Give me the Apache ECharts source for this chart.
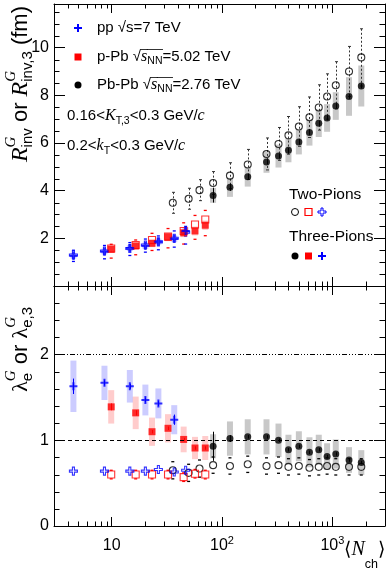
<!DOCTYPE html>
<html>
<head>
<meta charset="utf-8">
<script src="https://cdn.jsdelivr.net/npm/echarts@6/dist/echarts.min.js"></script>
<style>
html, body { margin: 0; padding: 0; background: #fff; }
#chart { width: 390px; height: 572px; }
</style>
</head>
<body>
<div id="chart"></div>
<script>
// ---------- data ----------
// pp sqrt(s)=7 TeV
const ppN = [4.5, 8.6, 14.6, 20.2, 26.5, 36.9, 46.8];
const ppR3 = [1.27, 1.45, 1.59, 1.69, 1.86, 1.98, 2.31];
const ppR3Sys = [0.12, 0.12, 0.12, 0.13, 0.13, 0.14, 0.15];
const ppR2 = [1.30, 1.47, 1.57, 1.72, 1.85, 2.00, 2.26];
const ppR2Lo = [1.03, 1.14, 1.28, 1.42, 1.52, 1.63, 1.76];
const ppR2Hi = [1.50, 1.70, 1.82, 1.97, 2.10, 2.31, 2.50];
const ppL3N = [4.5, 8.6, 14.6, 20.2, 26.5, 36.9];
const ppL3 = [1.63, 1.67, 1.63, 1.47, 1.43, 1.24];
const ppL3Stat = [0.09, 0.03, 0.03, 0.03, 0.03, 0.06];
const ppL3Sys = [0.30, 0.20, 0.19, 0.18, 0.175, 0.17];
const ppL2 = [0.64, 0.64, 0.64, 0.64, 0.66, 0.63, 0.65];

// p-Pb sqrt(sNN)=5.02 TeV
const pPbN = [9.9, 16.5, 23.2, 32.4, 44.9, 56.9, 70.5];
const pPbR3 = [1.54, 1.68, 1.79, 2.05, 2.23, 2.31, 2.55];
const pPbR3Sys = [0.15, 0.15, 0.16, 0.17, 0.18, 0.19, 0.20];
const pPbR2 = [1.57, 1.72, 1.93, 2.07, 2.31, 2.58, 2.79];
const pPbR2Lo = [1.17, 1.31, 1.49, 1.60, 1.76, 1.96, 2.11];
const pPbR2Hi = [1.75, 1.93, 2.21, 2.41, 2.65, 2.96, 3.17];
const pPbL3 = [1.39, 1.32, 1.10, 1.14, 1.01, 0.91, 0.91];
const pPbL3Stat = [0.04, 0.03, 0.02, 0.02, 0.02, 0.02, 0.02];
const pPbL3Sys = [0.195, 0.19, 0.165, 0.165, 0.15, 0.13, 0.14];
const pPbL2 = [0.60, 0.60, 0.60, 0.60, 0.57, 0.61, 0.60];
const pPbL2Err = [0.05, 0.05, 0.05, 0.05, 0.05, 0.05, 0.05];

// Pb-Pb sqrt(sNN)=2.76 TeV
const PbPbN = [83, 118, 171, 253, 325, 400, 497, 620, 753, 896, 1074, 1416, 1829];
const PbPbR3 = [3.80, 4.14, 4.58, 5.20, 5.45, 5.69, 6.04, 6.44, 6.83, 7.05, 7.55, 7.95, 8.39];
const PbPbR3Stat = [0.30, 0.15, 0.12, 0.10, 0.10, 0.10, 0.10, 0.10, 0.10, 0.10, 0.10, 0.10, 0.10];
const PbPbR3Sys = [0.31, 0.40, 0.41, 0.45, 0.48, 0.50, 0.52, 0.55, 0.58, 0.58, 0.58, 0.81, 0.86];
const PbPbN2 = [35.8, 49.8, 62.5, 83, 118, 171, 253, 325, 400, 497, 620, 753, 896, 1074, 1416, 1829];
const PbPbR2 = [3.49, 3.66, 4.02, 4.32, 4.63, 5.10, 5.54, 5.96, 6.32, 6.69, 7.08, 7.49, 7.95, 8.42, 9.00, 9.59];
const PbPbR2Err = [0.44, 0.44, 0.44, 0.48, 0.54, 0.63, 0.67, 0.69, 0.79, 0.83, 0.85, 0.95, 0.95, 0.99, 1.05, 1.20];
const PbPbL3 = [0.93, 1.02, 1.04, 1.04, 1.00, 0.89, 0.93, 0.86, 0.89, 0.81, 0.84, 0.77, 0.74];
const PbPbL3Stat = [0.17, 0.04, 0.02, 0.02, 0.02, 0.02, 0.02, 0.02, 0.02, 0.02, 0.02, 0.02, 0.02];
const PbPbL3Sys = [0.14, 0.20, 0.205, 0.205, 0.195, 0.175, 0.175, 0.175, 0.175, 0.155, 0.17, 0.15, 0.145];
const PbPbL2 = [0.65, 0.62, 0.67, 0.71, 0.70, 0.72, 0.70, 0.71, 0.69, 0.70, 0.68, 0.69, 0.70, 0.69, 0.69, 0.69];
const PbPbL2Err = [0.10, 0.10, 0.10, 0.095, 0.095, 0.095, 0.095, 0.095, 0.095, 0.095, 0.095, 0.095, 0.095, 0.095, 0.095, 0.095];

// reference lines in the lambda panel
const lambdaRefs = [1, 2];

// tick positions
const xMinor = [4, 5, 6, 7, 8, 9, 20, 30, 40, 50, 60, 70, 80, 90, 200, 300, 400, 500, 600, 700, 800, 900, 2000];
const yTopMinor = [0.5, 1, 1.5, 2.5, 3, 3.5, 4.5, 5, 5.5, 6.5, 7, 7.5, 8.5, 9, 9.5, 10.5, 11, 11.5];
const yBotMinor = [0.2, 0.4, 0.6, 0.8, 1.2, 1.4, 1.6, 1.8, 2.2, 2.4, 2.6];
const yTopLabels = [2, 4, 6, 8, 10];
const yBotLabels = [0, 1, 2];

// ---------- helpers ----------
const zip2 = (a, b) => a.map((v, i) => [v, b[i]]);
const zip3 = (a, b, c) => a.map((v, i) => [v, b[i], c[i]]);

const BLUE = '#0000ff', RED = '#ff0000', BLACK = '#000';
const CROSS = 'path://M3,0H5V3H8V5H5V8H3V5H0V3H3Z';
const FAM = {
  sans: '"Liberation Sans", Arial, sans-serif',
  serif: '"Liberation Serif", "Times New Roman", serif',
  dv: '"DejaVu Sans", sans-serif'
};

function sysBox(w) {
  return function (params, api) {
    const x = api.value(0), v = api.value(1), e = api.value(2);
    const a = api.coord([x, v + e]), b = api.coord([x, v - e]);
    return {
      type: 'rect',
      shape: { x: a[0] - w / 2, y: a[1], width: w, height: b[1] - a[1] },
      style: { fill: api.visual('color') }
    };
  };
}

function errBar(dash, cap) {
  return function (params, api) {
    const x = api.value(0), v = api.value(1), e = api.value(2);
    const a = api.coord([x, v + e]), b = api.coord([x, v - e]);
    const col = api.visual('color');
    const xs = Math.round(a[0]) + 0.5;
    const ch = [{
      type: 'line',
      shape: { x1: xs, y1: a[1], x2: xs, y2: b[1] },
      style: { stroke: col, lineWidth: 1, lineDash: dash }
    }];
    if (cap) {
      ch.push({ type: 'line', shape: { x1: xs - cap, y1: a[1], x2: xs + cap, y2: a[1] }, style: { stroke: col, lineWidth: 1 } });
      ch.push({ type: 'line', shape: { x1: xs - cap, y1: b[1], x2: xs + cap, y2: b[1] }, style: { stroke: col, lineWidth: 1 } });
    }
    return { type: 'group', children: ch };
  };
}

// short dashes at lo / hi (data: [x, lo, hi])
function dashes(w) {
  return function (params, api) {
    const x = api.value(0);
    const lo = api.coord([x, api.value(1)]), hi = api.coord([x, api.value(2)]);
    const col = api.visual('color');
    return {
      type: 'group',
      children: [lo, hi].map(p => ({
        type: 'line',
        shape: { x1: p[0] - w / 2, y1: p[1], x2: p[0] + w / 2, y2: p[1] },
        style: { stroke: col, lineWidth: 1.3 }
      }))
    };
  };
}

function xMinorTicks(len) {
  return function (params, api) {
    const cs = params.coordSys;
    const x = Math.round(api.coord([api.value(0), 1])[0]) + 0.5;
    return {
      type: 'group',
      children: [
        { type: 'line', shape: { x1: x, y1: cs.y + cs.height, x2: x, y2: cs.y + cs.height - len }, style: { stroke: BLACK, lineWidth: 1 } },
        { type: 'line', shape: { x1: x, y1: cs.y, x2: x, y2: cs.y + len }, style: { stroke: BLACK, lineWidth: 1 } }
      ]
    };
  };
}

function yMinorTicks(len) {
  return function (params, api) {
    const cs = params.coordSys;
    const y = Math.round(api.coord([10, api.value(1)])[1]) + 0.5;
    return {
      type: 'group',
      children: [
        { type: 'line', shape: { x1: cs.x, y1: y, x2: cs.x + len, y2: y }, style: { stroke: BLACK, lineWidth: 1 } },
        { type: 'line', shape: { x1: cs.x + cs.width, y1: y, x2: cs.x + cs.width - len, y2: y }, style: { stroke: BLACK, lineWidth: 1 } }
      ]
    };
  };
}

// text laid out as a row of runs (sub/superscripts, overlines)
const ctx = document.createElement('canvas').getContext('2d');
function fontOf(p) { return (p.it ? 'italic ' : '') + p.s + 'px ' + FAM[p.f || 'sans']; }
function runs(x0, base, parts) {
  const els = [];
  let x = x0, held = 0;
  parts.forEach(p => {
    const font = fontOf(p);
    ctx.font = font;
    const w = ctx.measureText(p.t).width;
    const yb = base + (p.dy || 0);
    els.push({
      type: 'text', x: x, y: yb - 0.35 * p.s,
      style: { text: p.t, font: font, fill: BLACK, align: 'left', verticalAlign: 'middle', textAlign: 'left', textVerticalAlign: 'middle' }
    });
    if (p.ol) {
      els.push({ type: 'line', shape: { x1: x - 0.5, y1: base - p.ol, x2: x + w + 0.5, y2: base - p.ol }, style: { stroke: BLACK, lineWidth: 0.8 } });
    }
    if (p.hold) { held = Math.max(held, w); }
    else { x += Math.max(held, w); held = 0; }
  });
  return { els: els, width: x - x0 };
}

// ---------- texts ----------
const graphics = [];
function put(x, base, parts) { graphics.push(...runs(x, base, parts).els); }

put(97, 33, [{ t: 'pp ', s: 15 }, { t: '\u221A', s: 15 }, { t: 's', s: 15 }, { t: '=7 TeV', s: 15 }]);
put(97, 62, [{ t: 'p-Pb ', s: 15 }, { t: '\u221A', s: 15 }, { t: 's', s: 16, f: 'serif', it: true, ol: 12.5 },
  { t: 'NN', s: 10.5, dy: 3, ol: 12.5 }, { t: '=5.02 TeV', s: 15 }]);
put(97, 90, [{ t: 'Pb-Pb ', s: 15 }, { t: '\u221A', s: 15 }, { t: 's', s: 16, f: 'serif', it: true, ol: 12.5 },
  { t: 'NN', s: 10.5, dy: 3, ol: 12.5 }, { t: '=2.76 TeV', s: 15 }]);
put(67, 121.5, [{ t: '0.16<', s: 15 }, { t: 'K', s: 16, f: 'serif', it: true }, { t: 'T,3', s: 10.5, dy: 3.5 },
  { t: '<0.3 GeV/', s: 15 }, { t: 'c', s: 16, f: 'serif', it: true }]);
put(67, 151.5, [{ t: '0.2<', s: 15 }, { t: 'k', s: 16, f: 'serif', it: true }, { t: 'T', s: 10.5, dy: 3.5 },
  { t: '<0.3 GeV/', s: 15 }, { t: 'c', s: 16, f: 'serif', it: true }]);
put(289, 200, [{ t: 'Two-Pions', s: 15.5 }]);
put(289, 242.5, [{ t: 'Three-Pions', s: 15.5 }]);

// x axis title <N_ch>
put(344, 557, [{ t: '\u27E8', s: 19, f: 'dv' }, { t: 'N', s: 20, f: 'serif', it: true }, { t: 'ch', s: 12.5, dy: 12 }, { t: '\u27E9', s: 19, f: 'dv' }]);

// rotated y titles
const t1 = runs(0, 0, [
  { t: 'R', s: 24, f: 'serif', it: true },
  { t: 'G', s: 15, f: 'serif', it: true, dy: -13, hold: true },
  { t: 'inv', s: 15, dy: 4 },
  { t: ' or ', s: 22 },
  { t: 'R', s: 24, f: 'serif', it: true },
  { t: 'G', s: 15, f: 'serif', it: true, dy: -13, hold: true },
  { t: 'inv,3', s: 15, dy: 4 },
  { t: ' (fm)', s: 22 }
]);
graphics.push({ type: 'group', x: 29, y: 6 + t1.width, rotation: Math.PI / 2, children: t1.els });

const t2 = runs(0, 0, [
  { t: '\u03BB', s: 22, f: 'serif' },
  { t: 'G', s: 15, f: 'serif', it: true, dy: -13, hold: true },
  { t: 'e', s: 15, dy: 4 },
  { t: ' or ', s: 22 },
  { t: '\u03BB', s: 22, f: 'serif' },
  { t: 'G', s: 15, f: 'serif', it: true, dy: -13, hold: true },
  { t: 'e,3', s: 15, dy: 4 }
]);
graphics.push({ type: 'group', x: 29, y: 307 + t2.width, rotation: Math.PI / 2, children: t2.els });

// legend markers
function crossEl(cx, cy, filled) {
  const pts = [[0, 3], [3, 3], [3, 0], [5, 0], [5, 3], [8, 3], [8, 5], [5, 5], [5, 8], [3, 8], [3, 5], [0, 5]]
    .map(p => [cx - 4 + p[0], cy - 4 + p[1]]);
  return {
    type: 'polygon', shape: { points: pts },
    style: filled ? { fill: BLUE } : { fill: 'none', stroke: BLUE, lineWidth: 1 }
  };
}
graphics.push(crossEl(78, 28, true));
graphics.push({ type: 'rect', shape: { x: 74.5, y: 53.5, width: 7, height: 7 }, style: { fill: RED } });
graphics.push({ type: 'circle', shape: { cx: 78, cy: 85, r: 3.5 }, style: { fill: BLACK } });
graphics.push({ type: 'circle', shape: { cx: 295, cy: 212, r: 3.5 }, style: { fill: 'none', stroke: BLACK, lineWidth: 1 } });
graphics.push({ type: 'rect', shape: { x: 305, y: 208.5, width: 7, height: 7 }, style: { fill: 'none', stroke: RED, lineWidth: 1.2 } });
graphics.push(crossEl(322, 212, false));
graphics.push({ type: 'circle', shape: { cx: 295, cy: 256, r: 3.5 }, style: { fill: BLACK } });
graphics.push({ type: 'rect', shape: { x: 305, y: 252.5, width: 7, height: 7 }, style: { fill: RED } });
graphics.push(crossEl(322, 256, true));
graphics.forEach(g => { g.z = 20; });

// ---------- axes ----------
const tickFont = { fontSize: 16, fontFamily: FAM.sans, color: BLACK };
function xAx(grid, pos, labels) {
  return {
    type: 'log', logBase: 10, gridIndex: grid, position: pos, min: 3, max: 3000, splitNumber: 3,
    axisLine: { show: true, onZero: false, lineStyle: { color: BLACK, width: 1 } },
    axisTick: { show: true, inside: true, length: 9, lineStyle: { color: BLACK } },
    axisLabel: {
      show: labels, margin: 9,
      formatter: function (v) {
        const l = Math.log10(v), e = Math.round(l);
        if (Math.abs(l - e) > 1e-6 || e < 1) return '';
        return e === 1 ? '{b|10}' : '{b|10}{s|' + e + '}';
      },
      rich: {
        b: { fontSize: 16, lineHeight: 22, fontFamily: FAM.sans, color: BLACK },
        s: { fontSize: 11, lineHeight: 8, verticalAlign: 'top', fontFamily: FAM.sans, color: BLACK }
      }
    },
    splitLine: { show: false }
  };
}
function yAx(grid, pos, max, interval, shown) {
  return {
    type: 'value', gridIndex: grid, position: pos, min: 0, max: max, interval: interval,
    axisLine: { show: true, onZero: false, lineStyle: { color: BLACK, width: 1 } },
    axisTick: { show: true, inside: true, length: 11, lineStyle: { color: BLACK } },
    axisLabel: shown ? Object.assign({
      show: true, margin: 5,
      formatter: v => (shown.indexOf(v) >= 0 ? String(v) : '')
    }, tickFont) : { show: false },
    splitLine: { show: false }
  };
}

// ---------- series ----------
function custom(grid, data, render, color, z) {
  return { type: 'custom', xAxisIndex: grid * 2, yAxisIndex: grid * 2, data: data, renderItem: render, itemStyle: { color: color }, z: z, silent: true };
}
function scat(grid, data, symbol, size, color, open, z, extra) {
  return Object.assign({
    type: 'scatter', xAxisIndex: grid * 2, yAxisIndex: grid * 2, data: data, symbol: symbol, symbolSize: size,
    itemStyle: open ? { color: 'rgba(0,0,0,0)', borderColor: color, borderWidth: 1.1 } : { color: color },
    z: z, silent: true
  }, extra || {});
}

const series = [
  // top panel
  custom(0, zip3(PbPbN, PbPbR3, PbPbR3Sys), sysBox(6), '#c8c8c8', 1),
  custom(0, zip3(pPbN, pPbR3, pPbR3Sys), sysBox(6), 'rgba(255,0,0,0.2)', 1),
  custom(0, zip3(ppN, ppR3, ppR3Sys), sysBox(6), 'rgba(0,0,255,0.2)', 1),
  custom(0, zip3(PbPbN2, PbPbR2, PbPbR2Err), errBar([2, 2], 1.5), '#333', 2),
  custom(0, zip3(pPbN, pPbR2Lo, pPbR2Hi), dashes(3), RED, 2),
  custom(0, zip3(ppN, ppR2Lo, ppR2Hi), dashes(3), BLUE, 2),
  custom(0, zip3(PbPbN, PbPbR3, PbPbR3Stat), errBar(null, 0), BLACK, 2),
  scat(0, zip2(PbPbN2, PbPbR2), 'circle', 7, BLACK, true, 3),
  scat(0, zip2(pPbN, pPbR2), 'rect', 7, RED, true, 3),
  scat(0, zip2(ppN, ppR2), CROSS, 8, BLUE, true, 3),
  scat(0, zip2(PbPbN, PbPbR3), 'circle', 7, BLACK, false, 4),
  scat(0, zip2(pPbN, pPbR3), 'rect', 7, RED, false, 4),
  scat(0, zip2(ppN, ppR3), CROSS, 8, BLUE, false, 4),
  custom(0, xMinor.map(v => [v, 1]), xMinorTicks(4.5), BLACK, 5),
  custom(0, yTopMinor.map(v => [10, v]), yMinorTicks(5.5), BLACK, 5),

  // bottom panel
  custom(1, zip3(PbPbN, PbPbL3, PbPbL3Sys), sysBox(6), '#c8c8c8', 1),
  custom(1, zip3(pPbN, pPbL3, pPbL3Sys), sysBox(6), 'rgba(255,0,0,0.2)', 1),
  custom(1, zip3(ppL3N, ppL3, ppL3Sys), sysBox(6), 'rgba(0,0,255,0.2)', 1),
  custom(1, zip3(PbPbN2, PbPbL2.map((v, i) => v - PbPbL2Err[i]), PbPbL2.map((v, i) => v + PbPbL2Err[i])), dashes(3), BLACK, 2),
  custom(1, zip3(pPbN, pPbL2.map((v, i) => v - pPbL2Err[i]), pPbL2.map((v, i) => v + pPbL2Err[i])), dashes(3), RED, 2),
  custom(1, zip3(PbPbN, PbPbL3, PbPbL3Stat), errBar(null, 0), BLACK, 2),
  custom(1, zip3(pPbN, pPbL3, pPbL3Stat), errBar(null, 0), RED, 2),
  custom(1, zip3(ppL3N, ppL3, ppL3Stat), errBar(null, 0), BLUE, 2),
  scat(1, zip2(PbPbN2, PbPbL2), 'circle', 7, BLACK, true, 3, {
    markLine: {
      silent: true, symbol: ['none', 'none'], label: { show: false }, animation: false,
      data: [
        { yAxis: lambdaRefs[0], lineStyle: { color: BLACK, width: 1, type: [4, 3] } },
        { yAxis: lambdaRefs[1], lineStyle: { color: BLACK, width: 1, type: [5, 2, 1, 2, 1, 2, 1, 2] } }
      ]
    }
  }),
  scat(1, zip2(pPbN, pPbL2), 'rect', 7, RED, true, 3),
  scat(1, zip2(ppN, ppL2), CROSS, 8, BLUE, true, 3),
  scat(1, zip2(PbPbN, PbPbL3), 'circle', 7, BLACK, false, 4),
  scat(1, zip2(pPbN, pPbL3), 'rect', 7, RED, false, 4),
  scat(1, zip2(ppL3N, ppL3), CROSS, 8, BLUE, false, 4),
  custom(1, xMinor.map(v => [v, 1]), xMinorTicks(4.5), BLACK, 5),
  custom(1, yBotMinor.map(v => [10, v]), yMinorTicks(5.5), BLACK, 5)
];

const chart = echarts.init(document.getElementById('chart'), null, { renderer: 'canvas', width: 390, height: 572 });
chart.setOption({
  animation: false,
  backgroundColor: '#fff',
  grid: [
    { left: 54, top: 4, width: 331, height: 282, outerBoundsMode: 'none', containLabel: false },
    { left: 54, top: 286, width: 331, height: 240, outerBoundsMode: 'none', containLabel: false }
  ],
  xAxis: [xAx(0, 'bottom', false), xAx(0, 'top', false), xAx(1, 'bottom', true), xAx(1, 'top', false)],
  yAxis: [yAx(0, 'left', 11.83, 2, yTopLabels), yAx(0, 'right', 11.83, 2, null),
          yAx(1, 'left', 2.8, 1, yBotLabels), yAx(1, 'right', 2.8, 1, null)],
  series: series,
  graphic: { elements: graphics }
});
</script>
</body>
</html>
